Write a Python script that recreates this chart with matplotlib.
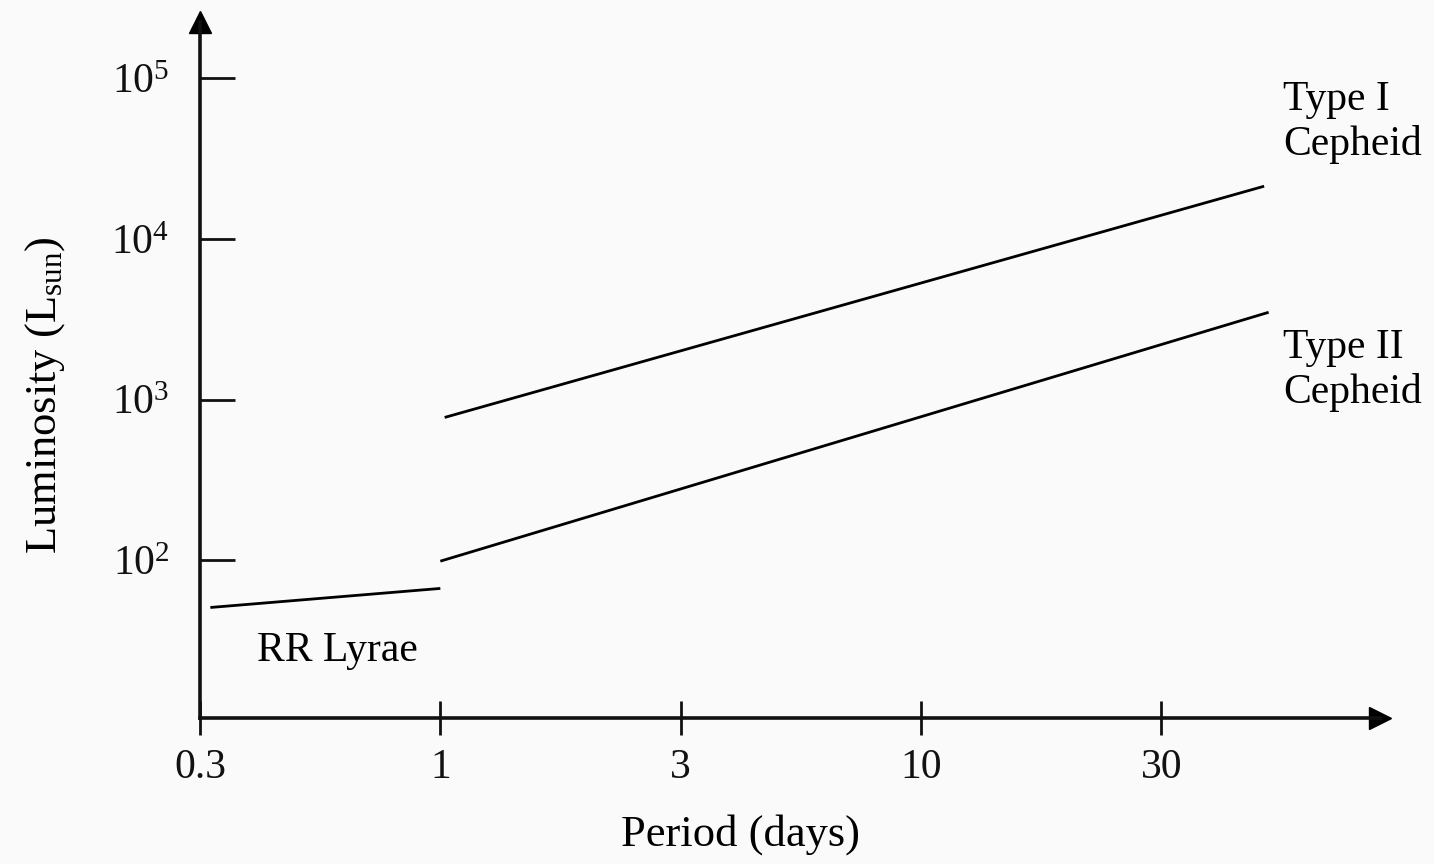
import numpy as np
import matplotlib
matplotlib.use("Agg")
import matplotlib.pyplot as plt
from matplotlib.ticker import NullLocator, FixedLocator, FixedFormatter

# ---- data ----
x_ticks = [0.3, 1, 3, 10, 30]
x_ticklabels = ["0.3", "1", "3", "10", "30"]
y_ticks = [1e2, 1e3, 1e4, 1e5]
y_ticklabels = ["$10^2$", "$10^3$", "$10^4$", "$10^5$"]

rr_period = [0.316, 1.0]
rr_lum = [51, 67]
type1_period = [1.02, 48]
type1_lum = [776, 21300]
type2_period = [1.0, 49]
type2_lum = [99, 3500]

# ---- scale: ticks equally spaced, log-interpolated between them ----
lp = np.log10(x_ticks)
ix = np.arange(len(x_ticks), dtype=float)

def fwd(x):
    lx = np.log10(np.clip(np.asarray(x, dtype=float), 1e-9, None))
    out = np.interp(lx, lp, ix)
    lo = lx < lp[0]
    hi = lx > lp[-1]
    out = np.where(lo, (lx - lp[0]) / (lp[1] - lp[0]), out)
    out = np.where(hi, ix[-1] + (lx - lp[-1]) / (lp[-1] - lp[-2]), out)
    return out

def inv(u):
    u = np.asarray(u, dtype=float)
    out = np.interp(u, ix, lp)
    out = np.where(u < 0, lp[0] + u * (lp[1] - lp[0]), out)
    out = np.where(u > ix[-1], lp[-1] + (u - ix[-1]) * (lp[-1] - lp[-2]), out)
    return 10 ** out

plt.rcParams['font.family'] = ['Liberation Serif', 'DejaVu Serif']
plt.rcParams['mathtext.fontset'] = 'custom'
plt.rcParams['mathtext.rm'] = 'Liberation Serif'
plt.rcParams['mathtext.it'] = 'Liberation Serif'

fig = plt.figure(figsize=(14.34, 8.64), dpi=100, facecolor='#fafafa')
ax = fig.add_axes([200/1434, (864-718)/864, (1380-200)/1434, (718-22)/864])
ax.set_facecolor('#fafafa')

ax.set_xscale('function', functions=(fwd, inv))
ax.set_yscale('log')
ax.set_xlim(0.3, inv(4.91))
ax.set_ylim(10 ** 1.02, 10 ** 5.35)

lw = 2.0
ax.plot(rr_period, rr_lum, color='black', lw=lw, solid_capstyle='butt')
ax.plot(type1_period, type1_lum, color='black', lw=lw, solid_capstyle='butt')
ax.plot(type2_period, type2_lum, color='black', lw=lw, solid_capstyle='butt')

for s in ['top', 'right']:
    ax.spines[s].set_visible(False)
for s in ['left', 'bottom']:
    ax.spines[s].set_linewidth(2.6)
    ax.spines[s].set_color('#111111')

ax.xaxis.set_major_locator(FixedLocator(x_ticks))
ax.xaxis.set_major_formatter(FixedFormatter(x_ticklabels))
ax.xaxis.set_minor_locator(NullLocator())
ax.yaxis.set_major_locator(FixedLocator(y_ticks))
ax.yaxis.set_major_formatter(FixedFormatter(y_ticklabels))
ax.yaxis.set_minor_locator(NullLocator())

ax.tick_params(axis='x', direction='inout', length=24, width=2.0, pad=10,
               labelsize=30, colors='#111111')
ax.tick_params(axis='y', direction='in', length=25, width=2.0, pad=22,
               labelsize=30, colors='#111111')

# arrow heads on axes
ax.plot([0], [1], marker='^', markersize=16, color='black', transform=ax.transAxes, clip_on=False)
ax.plot([1], [0], marker='>', markersize=16, color='black', transform=ax.transAxes, clip_on=False)

ax.set_xlabel('Period (days)', fontsize=32)
ax.xaxis.set_label_coords(0.458, -0.168)
ax.set_ylabel('Luminosity (L$_{sun}$)', fontsize=32)
ax.yaxis.set_label_coords(-0.131, 0.464)
ax.yaxis.label.set_va('center')
ax.xaxis.label.set_va('center')

ax.text(0.4, 27.6, 'RR Lyrae', fontsize=30, ha='left', va='center')
fig.text(1283/1434, 1 - 122/864, 'Type I\nCepheid', fontsize=30, ha='left', va='center', linespacing=1.2)
fig.text(1283/1434, 1 - 370/864, 'Type II\nCepheid', fontsize=30, ha='left', va='center', linespacing=1.2)

fig.savefig('out.png', dpi=100, facecolor=fig.get_facecolor())
